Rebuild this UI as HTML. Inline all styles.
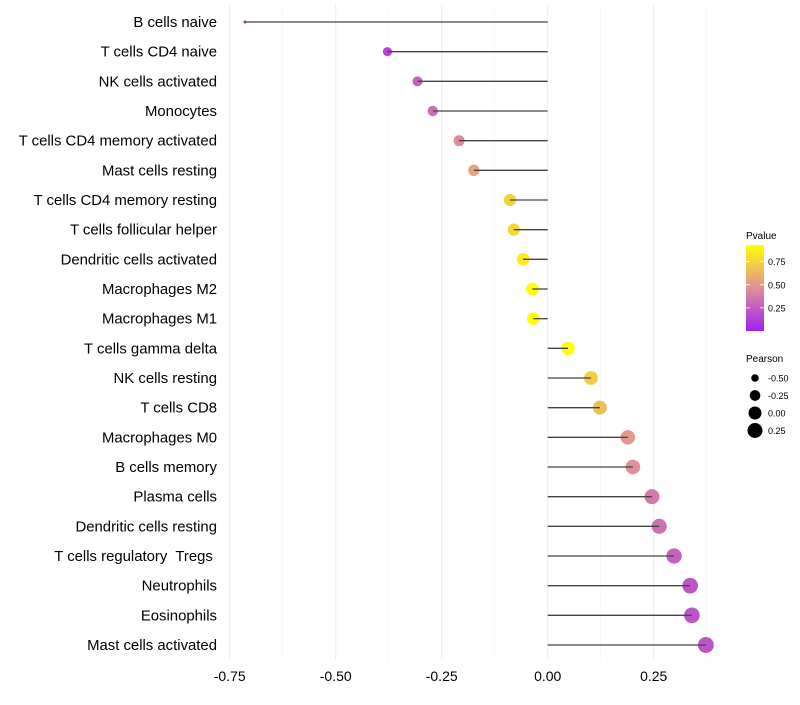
<!DOCTYPE html>
<html><head><meta charset="utf-8"><style>
body{margin:0;background:#fff;font-family:"Liberation Sans",sans-serif}
text{white-space:pre}
</style></head><body>
<svg id="chart" width="800" height="700" xmlns="http://www.w3.org/2000/svg" font-family="Liberation Sans, sans-serif">
<g id="grid"></g>
<g id="points"></g>
<g id="stems"></g>
<g id="ylabels"></g>
<g id="xlabels"></g>
<g id="legend">
<defs><linearGradient id="pg" x1="0" y1="1" x2="0" y2="0">
<stop offset="0" stop-color="#a020f0"/><stop offset="0.5" stop-color="#e0909a"/><stop offset="1" stop-color="#ffff00"/>
</linearGradient></defs>
<text x="746" y="239" font-size="10" fill="#000">Pvalue</text>
<rect x="746" y="245" width="18" height="86" fill="url(#pg)"/>
<g id="cbticks"></g>
<text x="746" y="362" font-size="10" fill="#000">Pearson</text>
<g id="sizeleg"></g>
</g>
</svg>
<script>
const categories=["B cells naive","T cells CD4 naive","NK cells activated","Monocytes","T cells CD4 memory activated","Mast cells resting","T cells CD4 memory resting","T cells follicular helper","Dendritic cells activated","Macrophages M2","Macrophages M1","T cells gamma delta","NK cells resting","T cells CD8","Macrophages M0","B cells memory","Plasma cells","Dendritic cells resting","T cells regulatory  Tregs ","Neutrophils","Eosinophils","Mast cells activated"];
const pearson=[-0.714,-0.378,-0.307,-0.271,-0.209,-0.174,-0.089,-0.080,-0.058,-0.036,-0.034,0.048,0.102,0.123,0.189,0.201,0.246,0.263,0.298,0.336,0.340,0.373];
const pvalue=[0.02,0.15,0.27,0.33,0.45,0.55,0.75,0.77,0.85,0.93,0.93,0.92,0.72,0.66,0.5,0.46,0.37,0.33,0.27,0.22,0.22,0.22];
const xTicks=[-0.75,-0.5,-0.25,0,0.25];
const xTickLabels=["-0.75","-0.50","-0.25","0.00","0.25"];
const cbTicks=[0.25,0.5,0.75];
const cbTickLabels=["0.25","0.50","0.75"];
const sizeLegend=[-0.5,-0.25,0,0.25];
const sizeLegendLabels=["-0.50","-0.25","0.00","0.25"];
const NS="http://www.w3.org/2000/svg";
const x=v=>547.7+v*424;
const y=i=>22+i*(623/21);
const r=v=>Math.sqrt(Math.max(0.5,2.25+(v+0.714)*56));
const pmax=0.93;
function lerp(a,b,t){return Math.round(a+(b-a)*t);}
function col(p){let t=Math.max(0,Math.min(1,p/pmax));const s=[[160,32,240],[224,144,154],[255,255,0]];
let a,b,u;if(t<0.5){a=s[0];b=s[1];u=t/0.5}else{a=s[1];b=s[2];u=(t-0.5)/0.5}
return `rgb(${lerp(a[0],b[0],u)},${lerp(a[1],b[1],u)},${lerp(a[2],b[2],u)})`;}
function mk(tag,attrs,parent){const e=document.createElementNS(NS,tag);for(const k in attrs)e.setAttribute(k,attrs[k]);document.getElementById(parent).appendChild(e);return e;}
for(let v=-0.625;v<=0.375;v+=0.25){const g=mk('line',{x1:x(v),x2:x(v),y1:5,y2:660,stroke:'#f2f2f2','stroke-width':0.6},'grid');

}
xTicks.forEach((v,i)=>{const g=mk('line',{x1:x(v),x2:x(v),y1:5,y2:660,stroke:'#ebebeb','stroke-width':1},'grid');


const t=mk('text',{x:x(v),y:681,'font-size':14,'text-anchor':'middle',fill:'#000'},'xlabels');t.textContent=xTickLabels[i];

});
categories.forEach((c,i)=>{
const p=mk('circle',{cx:x(pearson[i]),cy:y(i),r:r(pearson[i]),fill:col(pvalue[i])},'points');


const l=mk('line',{x1:x(0),x2:x(pearson[i]),y1:y(i),y2:y(i),stroke:'#444','stroke-width':1.3},'stems');


const t=mk('text',{x:217,y:y(i)+5,'font-size':14.9,'text-anchor':'end',fill:'#000'},'ylabels');t.textContent=c;

});
cbTicks.forEach((v,i)=>{const yy=331-v/pmax*86;
const a=mk('line',{x1:746,x2:750,y1:yy,y2:yy,stroke:'#fff','stroke-width':0.8},'cbticks');


const b=mk('line',{x1:760,x2:764,y1:yy,y2:yy,stroke:'#fff','stroke-width':0.8},'cbticks');


const t=mk('text',{x:768,y:yy+3.5,'font-size':9,fill:'#000'},'cbticks');t.textContent=cbTickLabels[i];

});
sizeLegend.forEach((v,i)=>{const yy=378+i*17.5;
const c=mk('circle',{cx:755,cy:yy,r:r(v),fill:'#000'},'sizeleg');


const t=mk('text',{x:768,y:yy+3.5,'font-size':9,fill:'#000'},'sizeleg');t.textContent=sizeLegendLabels[i];

});
</script>
</body></html>
